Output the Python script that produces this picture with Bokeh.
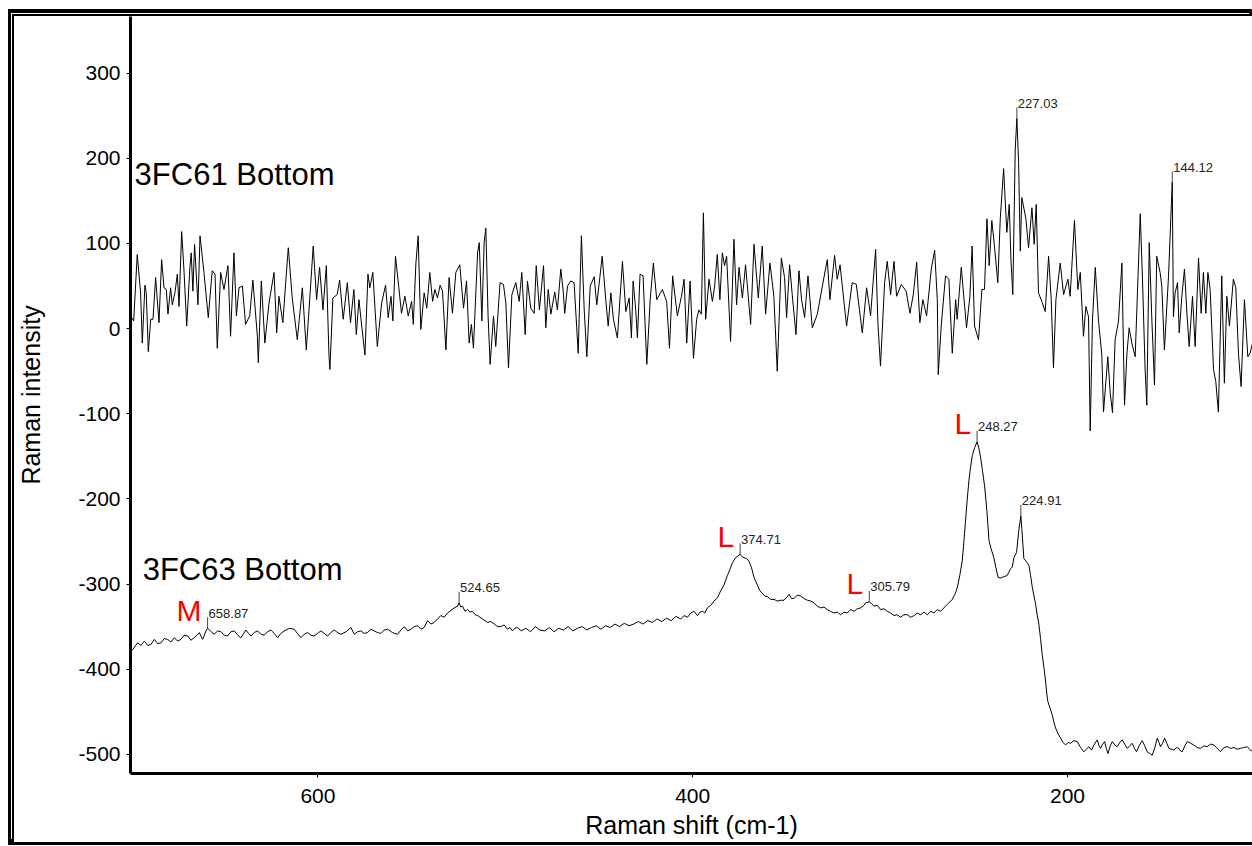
from bokeh.plotting import figure
from bokeh.models import Range1d, FixedTicker, Label, CustomJSTickFormatter
from bokeh.core.properties import value
from bokeh.embed import file_html
from bokeh.resources import INLINE

# ---- spectrum 3FC61 (top trace): Raman shift (cm-1) and intensity ----
shift_61 = [
    700.0, 699.4, 698.3, 696.4, 694.6, 693.7, 692.3, 691.6, 690.5, 689.2, 688.0, 686.6, 684.8, 683.4,
    682.1, 680.9, 680.0, 678.6, 677.7, 676.3, 675.0, 674.1, 672.7, 671.5, 670.0, 668.3, 667.6, 666.7,
    665.8, 664.0, 662.9, 660.8, 658.5, 656.4, 654.9, 653.7, 651.9, 650.1, 648.0, 646.6, 644.8, 643.5,
    642.1, 640.3, 638.6, 636.4, 634.7, 632.3, 631.8, 630.2, 628.3, 626.1, 623.4, 622.0, 620.8, 618.7,
    617.2, 615.8, 613.7, 611.0, 608.3, 606.2, 603.9, 602.5, 600.7, 599.1, 597.3, 595.5, 594.1, 593.6,
    592.0, 589.7, 588.4, 586.5, 584.3, 582.6, 580.8, 579.5, 578.1, 576.9, 574.9, 573.3, 572.3, 570.7,
    568.3, 566.0, 563.9, 562.5, 561.0, 560.0, 558.6, 556.8, 555.4, 553.6, 551.8, 550.0, 549.1,
    547.7, 546.5, 545.1, 543.3, 541.9, 540.3, 538.8, 537.6, 536.2, 534.8, 533.5, 531.7, 530.0, 528.2,
    526.4, 524.3, 522.3, 520.7, 519.3, 518.1, 517.0, 514.8, 513.9, 512.5, 511.3, 510.4, 509.2, 508.1,
    506.3, 505.1, 502.8, 501.0, 499.7, 498.3, 496.5, 494.4, 492.6, 491.2, 489.4, 488.2, 486.4, 484.6,
    483.5, 481.8, 479.6, 478.4, 477.1, 475.7, 473.6, 472.2, 470.4, 469.1, 468.3, 466.8, 465.1, 463.3,
    461.1, 459.4, 457.9, 456.5, 454.7, 452.6, 451.2, 448.3, 446.4, 445.1, 443.7, 442.3, 440.2, 437.5,
    435.7, 433.9, 432.7, 431.8, 430.4, 429.5, 428.1, 426.5, 424.5, 422.7, 421.0, 419.2, 416.2, 413.9,
    412.4, 410.7, 408.2, 406.0, 404.6, 403.2, 401.4, 399.6,
    397.9, 396.7, 395.4, 394.3, 393.1, 391.3, 389.5, 388.3, 386.9, 385.5, 384.2, 383.0, 381.9, 379.8,
    378.0, 376.6, 375.3, 373.5, 371.8, 369.1, 367.3, 365.0, 362.9, 361.1, 358.8, 356.7, 354.9, 352.7,
    351.0, 349.9, 348.3, 346.9, 344.9, 343.3, 341.9, 340.3, 338.5, 336.2, 333.5, 330.9, 328.2, 326.8,
    324.3, 322.9, 321.4, 317.9, 314.9, 312.7, 309.5, 307.2, 305.1, 302.4, 301.2, 299.8, 297.6, 296.2,
    294.4, 292.6, 291.2, 288.7, 286.1, 284.1, 282.3, 280.5, 278.8, 277.2, 275.2, 272.7, 270.9, 269.5,
    269.0, 267.4, 265.1, 263.3, 261.5, 259.7, 258.9, 256.7, 253.9, 252.1, 250.9, 249.6,
    247.5, 245.7, 244.3, 243.0, 241.8, 240.4, 239.0, 237.2, 235.9, 234.1, 232.4, 231.1, 230.2, 229.2,
    227.9, 227.03, 226.1, 225.2, 224.4, 222.2, 220.8, 219.0, 217.8, 216.7, 215.5, 213.7, 211.9, 210.1,
    208.7, 207.5, 206.2, 203.9, 202.1, 199.8, 198.6, 196.3, 194.5, 193.2, 191.5, 190.2, 188.8, 187.9,
    186.7, 185.2, 183.5, 181.7, 180.8, 178.5, 177.2, 176.0, 174.6, 172.8, 171.0, 169.6, 168.3, 167.1,
    165.7, 163.9, 161.2, 160.0, 158.6, 157.7, 156.4, 155.0, 153.6, 152.4, 150.6, 149.7, 148.3, 146.1,
    144.12, 143.5, 142.6, 141.3, 140.4, 139.0, 137.6, 136.3, 135.1, 133.3, 131.9, 130.1, 128.7, 127.5,
    126.2, 125.1, 123.9, 122.1, 120.9, 119.5, 117.7, 116.3, 115.0, 113.6, 111.5, 110.2, 108.8, 107.4,
    105.6, 103.8, 102.6, 101.3,
]
int_61 = [
    20, 13, 9, 87, 42, -17, 51, 42, -27, 11, 11, 60, 7, 81,
    48, 46, 17, 48, 28, 42, 64, 26, 114, 70, 3, 72, 89, 44,
    99, 28, 109, 66, 13, 68, 64, -23, 66, 46, 74, -9, 89, 15,
    48, 50, 5, 15, 57, -9, -40, 56, -17, 30, 66, -5, 38, 7,
    54, 95, 36, -13, 48, -25, 50, 97, 34, 72, 22, 74, -31, -48,
    36, 40, 57, 11, 54, 7, 46, -7, 34, 9, -31, 64, 48, 66,
    -21, 30, 51, 13, 38, 9, 85, 48, 18, 38, 15, 32, 5,
    77, 109, -1, 42, 24, 66, 32, 46, 36, 51, 44, -25, 60, 18,
    66, 75, 24, 56, -17, 5, -23, 89, 101, 9, 101, 118, 15, -42,
    15, -21, 54, 52, 30, -46, 40, 54, 32, 66, -7, 56, 24, 18,
    74, 22, 74, 1, 46, 17, 43, 22, 70, 44, 18, 50, 56, 54,
    -29, 109, 22, -33, 50, 61, 28, 85, 34, 3, 42, 11, -11, 79,
    20, 36, -11, 56, 22, -11, 64, 62, -42, 34, 77, 34, 46, 32,
    -23, 62, 15, 38, 58, -17, 56, -35,
    11, 22, 17, 136, 11, 58, 32, 50, 87, 34, 89, 74, 85, -15,
    105, 28, 72, 36, 75, 5, 99, 36, 97, 17, 77, 38, -50, 83,
    60, 13, 75, 40, -7, 68, 34, 13, 62, 1, 17, 49, 81, 34,
    86, 58, 75, 3, 54, 52, -5, 48, 15, 93, 7, -44, 54, 79,
    40, 79, 38, 52, 44, 18, 40, 78, 7, 34, 15, 70, 92, 34,
    -54, 3, 62, 58, -29, 34, 11, 72, 1, 38, 97, 3,
    -13, 46, 46, 129, 74, 127, 97, 54, 129, 188, 113, 146, 81, 40,
    211, 247, 195, 91, 154, 129, 95, 142, 99, 146, 42, 32, 20, 85,
    34, -46, 34, 77, 40, 58, 38, 127, 46, 66, -9, 26, 14, -120,
    10, 72, 10, -31, -98, -33, -76, -99, -13, 9, 77, -90, -29, 1,
    -17, -33, 135, 58, -48, -90, 101, 10, -66, 85, 66, 50, -25, 62,
    172, 14, 42, 54, -5, 38, 70, 18, -21, 38, -21, 83, 18, 66,
    18, 66, 46, -48, -62, -98, 62, -64, 38, 3, 58, 48, -29, -68,
    34, -33, -29, -17,
]

# ---- spectrum 3FC63 (bottom trace) ----
shift_63 = [
    700.0, 698.8, 696.2, 694.5, 692.6, 690.8, 689.1, 687.3, 685.5, 683.7, 682.0, 680.2, 678.4, 676.6,
    674.9, 673.1, 671.3, 669.5, 667.8, 666.0, 664.5, 663.3, 661.5, 659.7, 658.87, 657.4, 655.3, 653.5,
    651.7, 650.0, 648.2, 646.4, 644.6, 642.8, 641.1, 638.4, 637.0, 635.7, 634.0, 632.2, 630.4, 628.6,
    626.9, 625.1, 623.3, 621.5, 619.8, 618.0, 615.3, 612.7, 610.9, 609.1, 607.3, 605.5, 603.8, 602.0,
    600.2, 598.4, 596.6, 594.9, 593.1, 591.3, 589.5, 587.7, 585.0, 582.4, 580.6, 578.8, 577.1, 575.3,
    573.5, 571.7, 570.0, 568.2, 566.4, 564.6, 562.8, 560.2, 557.5, 555.7, 553.9, 552.1, 550.4, 548.6,
    546.8, 545.0, 543.3, 541.5, 539.7, 537.9, 536.1, 534.4, 532.6, 530.8, 529.0, 527.3, 525.5, 524.65,
    523.8, 522.8, 521.5, 520.2, 518.8, 517.5, 516.1, 514.8, 513.5, 512.2, 510.8, 509.5, 507.7, 505.9,
    504.1, 502.4, 500.6, 498.8, 497.5, 496.2, 494.9, 493.5, 491.5, 489.0, 486.5, 484.0, 481.5, 479.0,
    476.5, 474.0, 471.5, 469.0, 466.5, 464.0, 461.5, 459.0, 456.5, 454.0, 451.5, 449.0, 446.5, 444.0,
    441.5, 439.0, 436.5, 434.0, 431.5, 429.0, 426.5, 424.0, 421.5, 419.0, 416.5, 414.0, 411.5, 409.0,
    406.4, 404.6, 402.8, 401.0, 399.3, 397.5, 396.0, 394.8, 393.5, 392.2, 390.4, 388.6, 386.8, 385.1,
    383.3, 381.5, 380.2, 378.8, 377.1, 375.8, 374.71, 373.6, 372.6, 371.3, 370.0, 368.6, 367.3, 365.7,
    364.1, 362.8, 361.6, 360.0, 358.4, 356.6, 354.8, 353.0, 351.3, 350.0, 348.6, 347.3, 346.0, 344.2,
    342.4, 340.6, 338.8, 337.0, 335.3, 333.5, 331.7, 330.0, 328.2, 326.4, 324.6, 322.8, 321.1, 319.3,
    317.5, 315.7, 313.9, 312.2, 310.4, 308.6, 307.7, 305.79, 304.5, 303.3, 301.5, 299.7, 297.9, 296.2,
    294.4, 292.6, 290.9, 289.1, 287.3, 285.5, 283.7, 281.9, 280.2, 278.4, 276.6, 274.8, 273.0, 271.3,
    269.5, 267.7, 266.0, 264.2, 262.8, 261.5, 260.1, 258.8, 257.5, 256.2, 255.3, 254.4, 253.5, 252.6,
    251.7, 250.8, 249.6, 248.27, 247.3, 246.4, 245.3, 244.2, 243.0, 241.9, 240.6, 239.3, 238.2, 237.1,
    236.0, 234.8, 233.5, 232.2, 231.3, 230.4, 229.5, 228.6, 227.2, 226.0, 224.91, 224.4, 223.3, 221.5,
    220.6, 219.7, 218.8, 217.9, 217.0, 216.2, 215.3, 214.4, 213.5, 212.6, 211.7, 211.1, 210.5, 209.3,
    208.1, 207.3, 206.4, 205.0, 203.7, 202.4, 201.0, 199.7, 198.4, 196.6, 194.8, 193.0, 191.3, 190.0,
    188.6, 187.2, 185.9, 184.1, 183.2, 182.4, 181.3, 180.2, 179.3, 178.4, 177.2, 176.1, 174.8, 173.5,
    172.1, 170.8, 169.5, 168.1, 166.8, 165.5, 164.3, 163.2, 161.6, 160.1, 158.8, 157.5, 156.1, 154.8,
    153.4, 152.1, 151.2, 150.4, 149.3, 148.2, 147.0, 145.9, 144.5, 143.2, 141.9, 140.6, 139.7, 138.8,
    137.4, 136.1, 134.3, 132.6, 130.8, 129.0, 127.2, 125.5, 123.7, 121.9, 120.1, 118.4, 116.6, 114.8,
    113.0, 111.2, 109.5, 107.7, 105.9, 104.1, 102.0, 101.3,
]
int_63 = [
    -377, -377, -369, -372, -367, -372, -371, -365, -370, -369, -364, -365, -368, -363,
    -367, -365, -360, -361, -366, -363, -360, -357, -365, -355, -352, -355, -359, -355,
    -356, -360, -361, -356, -355, -360, -363, -354, -358, -361, -357, -355, -359, -360,
    -356, -354, -358, -363, -358, -355, -352, -353, -358, -363, -359, -357, -360, -361,
    -358, -355, -358, -361, -357, -354, -357, -359, -356, -351, -359, -356, -355, -358,
    -357, -353, -355, -357, -358, -354, -353, -357, -359, -354, -350, -355, -353, -350,
    -349, -353, -351, -343, -347, -345, -341, -337, -339, -334, -331, -328, -326, -322,
    -327, -326, -332, -330, -333, -332, -336, -337, -339, -341, -343, -345, -344, -347,
    -350, -350, -348, -353, -351, -355, -352, -351, -355, -352, -356, -350, -354, -355,
    -351, -356, -352, -354, -350, -355, -352, -350, -354, -351, -349, -353, -349, -351,
    -347, -350, -346, -349, -347, -344, -347, -343, -345, -341, -344, -340, -343, -338,
    -341, -337, -339, -334, -332, -337, -333, -332, -334, -328, -325, -320, -316, -308,
    -301, -290, -283, -275, -269, -267, -265, -268, -269, -270, -273, -281, -292, -300,
    -308, -311, -314, -315, -318, -318, -320, -319, -319, -316, -312, -317, -317, -313,
    -314, -317, -319, -320, -322, -326, -328, -327, -330, -332, -334, -333, -336, -333,
    -334, -330, -332, -329, -328, -325, -322, -321, -323, -326, -325, -330, -329, -332,
    -334, -337, -336, -339, -336, -336, -339, -337, -334, -336, -333, -336, -332, -334,
    -330, -332, -328, -324, -321, -318, -312, -304, -290, -273, -250, -225, -200, -178,
    -162, -149, -140, -133, -140, -151, -168, -186, -215, -249, -260, -269, -281, -292,
    -293, -292, -291, -290, -286, -282, -280, -269, -263, -237, -220, -235, -270, -275,
    -278, -290, -304, -314, -324, -336, -347, -364, -383, -398, -414, -428, -438, -446,
    -454, -462, -469, -476, -481, -486, -489, -486, -487, -484, -485, -492, -497, -494,
    -491, -495, -489, -483, -490, -493, -488, -485, -493, -499, -490, -485, -489, -491,
    -486, -483, -488, -493, -490, -487, -493, -497, -489, -484, -490, -497, -499, -501,
    -492, -481, -486, -491, -487, -481, -487, -493, -494, -495, -492, -493, -496, -497,
    -490, -485, -487, -489, -492, -493, -490, -491, -488, -489, -493, -497, -492, -491,
    -493, -492, -494, -493, -492, -491, -496, -495,
]

# ---- labelled peaks and band assignments ----
peaks_61 = [227.03, 144.12]
peaks_63 = [658.87, 524.65, 374.71, 305.79, 248.27, 224.91]
band_shift = [658.87, 374.71, 305.79, 248.27]
band_letter = ["M", "L", "L", "L"]

y_ticks = [-500, -400, -300, -200, -100, 0, 100, 200, 300]
x_ticks = [200, 400, 600]

# canvas sits inside a double window frame drawn with box shadows
W, H = 1238, 826
LEFT, TOP, BOTTOM = 116, 0, 69
Y0, Y1 = -522.5, 366.6

p = figure(width=W, height=H, x_range=Range1d(700, 101.3), y_range=Range1d(Y0, Y1),
           output_backend="svg", toolbar_location=None, margin=(16, 0, 0, 14),
           min_border_left=LEFT, min_border_right=0, min_border_top=TOP, min_border_bottom=BOTTOM)
p.styles = {"box-shadow": "-2px -2px 0 0 #000000, -3px -3px 0 0 #ffffff, -1px -2px 0 5px #000000"}
p.grid.visible = False
p.outline_line_color = None
p.background_fill_color = "white"
p.border_fill_color = "white"

FONT = "Liberation Sans"
for ax in (p.xaxis[0], p.yaxis[0]):
    ax.axis_line_width = 3
    ax.axis_line_color = "black"
    ax.major_tick_in = 0
    ax.major_tick_out = 4
    ax.major_tick_line_color = "black"
    ax.minor_tick_out = 0
    ax.minor_tick_in = 0
    ax.minor_tick_line_color = None
    ax.major_label_text_font = FONT
    ax.major_label_text_font_size = "21px"
    ax.major_label_text_color = "black"
    ax.axis_label_text_font = FONT
    ax.axis_label_text_font_size = "25px"
    ax.axis_label_text_font_style = "normal"
    ax.axis_label_text_color = "black"
    ax.formatter = CustomJSTickFormatter(code="return tick.toString();")

p.xaxis.ticker = FixedTicker(ticks=x_ticks)
p.yaxis.ticker = FixedTicker(ticks=y_ticks)
p.xaxis.axis_label = "Raman shift (cm-1)"
p.yaxis.axis_label = "Raman intensity"
p.xaxis.major_label_standoff = 11
p.xaxis.axis_label_standoff = 5
p.yaxis.major_label_standoff = 6
p.yaxis.axis_label_standoff = 30

p.line(shift_61, int_61, line_color="black", line_width=1)
p.line(shift_63, int_63, line_color="black", line_width=1)

# pixels per intensity unit, used to size the peak leaders
px_per_unit = (H - TOP - BOTTOM) / (Y1 - Y0)
lead = 11 / px_per_unit

def peak_heights(shifts, ints, peaks):
    return [ints[shifts.index(v)] for v in peaks]

for shifts, ints, peaks in ((shift_61, int_61, peaks_61), (shift_63, int_63, peaks_63)):
    ys = peak_heights(shifts, ints, peaks)
    p.segment(x0=peaks, y0=ys, x1=peaks, y1=[y + lead for y in ys],
              line_color="#444444", line_width=1)
    p.text(x=peaks, y=ys, text=[f"{v:.2f}" for v in peaks],
           text_font=value(FONT), text_font_size="13px", text_color="#222222",
           text_align="left", text_baseline="middle", x_offset=1, y_offset=-15)

band_y = peak_heights(shift_63, int_63, band_shift)
p.text(x=band_shift, y=band_y, text=band_letter, text_font=value(FONT),
       text_font_size="30px", text_color="#ff0000", text_align="right",
       text_baseline="middle", x_offset=-6, y_offset=-18)

for xx, yy, name in ((697.8, 181, "3FC61 Bottom"), (693.5, -283, "3FC63 Bottom")):
    p.add_layout(Label(x=xx, y=yy, text=name, text_font=FONT, text_font_size="31px",
                       text_color="black", text_baseline="middle"))

open("out.html", "w").write(file_html(p, INLINE))
